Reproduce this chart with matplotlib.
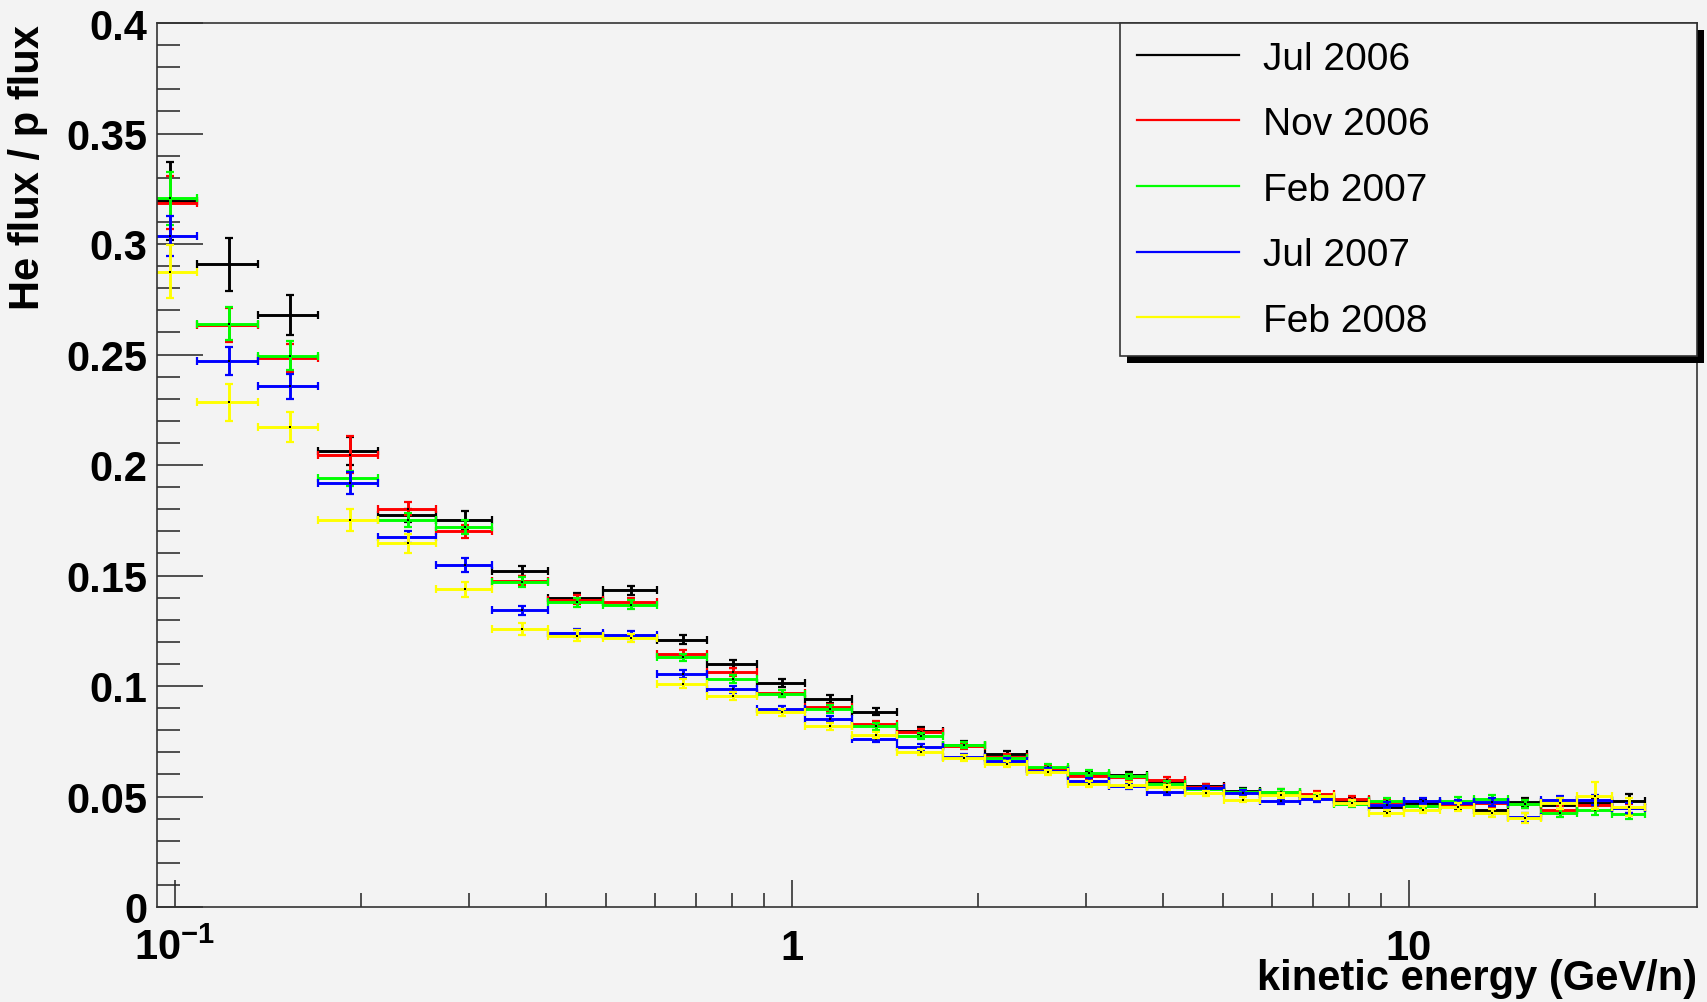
import numpy as np
import matplotlib
matplotlib.use('Agg')
import matplotlib.pyplot as plt
from matplotlib.lines import Line2D
from matplotlib.patches import Rectangle
from matplotlib.ticker import LogLocator, NullFormatter, MultipleLocator

plt.rcParams['font.family'] = ['Liberation Sans', 'DejaVu Sans']
plt.rcParams['mathtext.fontset'] = 'custom'
plt.rcParams['mathtext.rm'] = 'Liberation Sans'
plt.rcParams['mathtext.bf'] = 'Liberation Sans:bold'

# kinetic energy bin edges (GeV/n)
edges = [0.0880, 0.1086, 0.1364, 0.1708, 0.2131, 0.2647, 0.3265, 0.4027,
         0.4947, 0.6033, 0.7275, 0.8772, 1.0499, 1.2520, 1.4817, 1.7538,
         2.052, 2.402, 2.801, 3.265, 3.765, 4.339, 5.021, 5.745, 6.649,
         7.551, 8.608, 9.815, 11.23, 12.76, 14.49, 16.39, 18.69, 21.30, 24.11]

periods = ['Jul 2006', 'Nov 2006', 'Feb 2007', 'Jul 2007', 'Feb 2008']
colors = ['#000000', '#ff0000', '#00ff00', '#0000ff', '#ffff00']

# He/p flux ratio per bin
ratio_jul06 = [0.3195, 0.2908, 0.2679, 0.2063, 0.1773, 0.1749, 0.1522, 0.1398,
               0.1433, 0.1210, 0.1100, 0.1014, 0.0941, 0.0884, 0.0798, 0.0735,
               0.0692, 0.0624, 0.0599, 0.0597, 0.0564, 0.0546, 0.0525, 0.0510,
               0.0500, 0.0482, 0.0451, 0.0470, 0.0458, 0.0439, 0.0474, 0.0460,
               0.0470, 0.0480]
ratio_nov06 = [0.3186, 0.2633, 0.2484, 0.2047, 0.1803, 0.1700, 0.1477, 0.1391,
               0.1380, 0.1145, 0.1062, 0.0967, 0.0904, 0.0828, 0.0790, 0.0730,
               0.0680, 0.0626, 0.0591, 0.0588, 0.0575, 0.0545, 0.0519, 0.0520,
               0.0511, 0.0489, 0.0476, 0.0455, 0.0463, 0.0470, 0.0466, 0.0439,
               0.0462, 0.0446]
ratio_feb07 = [0.3207, 0.2640, 0.2495, 0.1939, 0.1751, 0.1720, 0.1469, 0.1379,
               0.1368, 0.1129, 0.1032, 0.0964, 0.0896, 0.0818, 0.0775, 0.0733,
               0.0672, 0.0635, 0.0606, 0.0591, 0.0557, 0.0535, 0.0520, 0.0522,
               0.0492, 0.0466, 0.0481, 0.0458, 0.0481, 0.0489, 0.0466, 0.0425,
               0.0439, 0.0421]
ratio_jul07 = [0.3035, 0.2472, 0.2356, 0.1919, 0.1673, 0.1547, 0.1342, 0.1240,
               0.1232, 0.1053, 0.0986, 0.0896, 0.0851, 0.0760, 0.0723, 0.0680,
               0.0660, 0.0617, 0.0572, 0.0546, 0.0519, 0.0537, 0.0518, 0.0478,
               0.0490, 0.0472, 0.0462, 0.0480, 0.0470, 0.0474, 0.0406, 0.0484,
               0.0484, 0.0447]
ratio_feb08 = [0.2875, 0.2284, 0.2172, 0.1750, 0.1645, 0.1437, 0.1258, 0.1228,
               0.1217, 0.1011, 0.0955, 0.0882, 0.0818, 0.0778, 0.0703, 0.0674,
               0.0648, 0.0609, 0.0557, 0.0552, 0.0541, 0.0514, 0.0486, 0.0505,
               0.0501, 0.0471, 0.0425, 0.0440, 0.0451, 0.0425, 0.0403, 0.0470,
               0.0504, 0.0451]

err_jul06 = [0.0175, 0.012, 0.009, 0.0065, 0.003, 0.0044, 0.0022, 0.0022, 0.002,
             0.002, 0.0018, 0.0018, 0.0018, 0.0015, 0.0015, 0.0015, 0.0013,
             0.0012, 0.0012, 0.0012, 0.0012, 0.0012, 0.0012, 0.0012, 0.0013,
             0.0013, 0.0015, 0.0015, 0.0018, 0.002, 0.002, 0.0022, 0.0025, 0.003]
err_nov06 = [0.012, 0.0076, 0.0064, 0.0083, 0.003, 0.003, 0.002, 0.002, 0.002,
             0.0018, 0.0018, 0.0016, 0.0016, 0.0015, 0.0014, 0.0013, 0.0012,
             0.0012, 0.0012, 0.0012, 0.0012, 0.0012, 0.0012, 0.0012, 0.0013,
             0.0013, 0.0014, 0.0015, 0.0016, 0.0018, 0.002, 0.002, 0.0022, 0.0022]
err_feb07 = [0.012, 0.0076, 0.0064, 0.0034, 0.003, 0.003, 0.0022, 0.002, 0.002,
             0.0018, 0.0018, 0.0016, 0.0016, 0.0015, 0.0014, 0.0013, 0.0012,
             0.0012, 0.0012, 0.0012, 0.0012, 0.0012, 0.0012, 0.0012, 0.0013,
             0.0013, 0.0014, 0.0015, 0.0016, 0.0018, 0.002, 0.002, 0.0022, 0.0025]
err_jul07 = [0.009, 0.0064, 0.0057, 0.005, 0.0028, 0.003, 0.002, 0.0018, 0.0018,
             0.0018, 0.0016, 0.0015, 0.0015, 0.0014, 0.0013, 0.0012, 0.0012,
             0.0012, 0.0012, 0.0012, 0.0012, 0.0012, 0.0012, 0.0012, 0.0013,
             0.0013, 0.0014, 0.0015, 0.0016, 0.0018, 0.002, 0.002, 0.0022, 0.0022]
err_feb08 = [0.012, 0.0083, 0.007, 0.005, 0.0044, 0.0035, 0.0025, 0.0025, 0.002,
             0.002, 0.0018, 0.0016, 0.0016, 0.0015, 0.0014, 0.0013, 0.0013,
             0.0012, 0.0012, 0.0012, 0.0012, 0.0012, 0.0012, 0.0013, 0.0013,
             0.0014, 0.0015, 0.0016, 0.0018, 0.002, 0.0022, 0.0025, 0.006, 0.004]

ratios = [ratio_jul06, ratio_nov06, ratio_feb07, ratio_jul07, ratio_feb08]
errors = [err_jul06, err_nov06, err_feb07, err_jul07, err_feb08]

BG = '#f3f3f3'
W, H = 1708, 1003
fig = plt.figure(figsize=(W / 100, H / 100), dpi=100, facecolor=BG)
ax = fig.add_axes([157 / W, 1 - 908 / H, (1697 - 157) / W, (908 - 24) / H])
ax.set_facecolor(BG)

lo = np.array(edges[:-1])
hi = np.array(edges[1:])
centers = 0.5 * (lo + hi)

for vals, errs, c in zip(ratios, errors, colors):
    ax.errorbar(centers, vals, xerr=[centers - lo, hi - centers], yerr=errs,
                fmt='none', ecolor=c, elinewidth=2.1, capsize=2.8, capthick=1.6)
    ax.plot(centers, vals, 's', ms=1.6, mew=0, color='k')

ax.set_xscale('log')
ax.set_xlim(0.0935, 29.3)
ax.set_ylim(0, 0.4)

ax.set_xticks([0.1, 1, 10], [r'$\mathbf{10^{-1}}$', '1', '10'],
              fontsize=30, fontweight='bold')
ax.xaxis.set_minor_locator(LogLocator(base=10, subs=np.arange(2, 10)))
ax.xaxis.set_minor_formatter(NullFormatter())

yt = np.arange(0, 0.401, 0.05)
ax.set_yticks(yt, ['0', '0.05', '0.1', '0.15', '0.2', '0.25', '0.3', '0.35', '0.4'],
              fontsize=30, fontweight='bold')
ax.yaxis.set_minor_locator(MultipleLocator(0.01))

ax.tick_params(which='both', direction='in', top=False, right=False,
               color='#222222', width=1.1)
ax.tick_params(axis='y', which='major', length=33, pad=7)
ax.tick_params(axis='y', which='minor', length=16.5)
ax.tick_params(axis='x', which='major', length=19.5, pad=15)
ax.tick_params(axis='x', which='minor', length=10)
for s in ax.spines.values():
    s.set_linewidth(1.2)
    s.set_color('#333333')

# legend box in the upper right corner
handles = [Line2D([], [], color=c, lw=1.6) for c in colors]
x0 = (1120 - 157) / (1697 - 157)
leg = ax.legend(handles, periods, loc='upper left', bbox_to_anchor=(x0, 0, 1 - x0, 1),
                mode='expand', borderaxespad=0, fontsize=28, frameon=True,
                fancybox=False, edgecolor='#333333', facecolor=BG, framealpha=1,
                handlelength=2.62, handletextpad=0.62, labelspacing=0.76,
                borderpad=0.45)
leg.get_frame().set_linewidth(1.2)

fig.text(28 / W, 1 - 25 / H, 'He flux / p flux', rotation=90, ha='center', va='top',
         fontsize=30, fontweight='bold')
fig.text(1697 / W, 1 - 990 / H, 'kinetic energy (GeV/n)', ha='right', va='baseline',
         fontsize=30, fontweight='bold')

# drop shadow behind the legend
fig.canvas.draw()
bb = leg.get_window_extent()
ax.add_patch(Rectangle(((bb.x0 + 7) / W, (bb.y0 - 7) / H), bb.width / W, bb.height / H,
                       transform=fig.transFigure, facecolor='black', edgecolor='none',
                       clip_on=False, zorder=4.5))

fig.savefig('out.png', dpi=100, facecolor=BG)
